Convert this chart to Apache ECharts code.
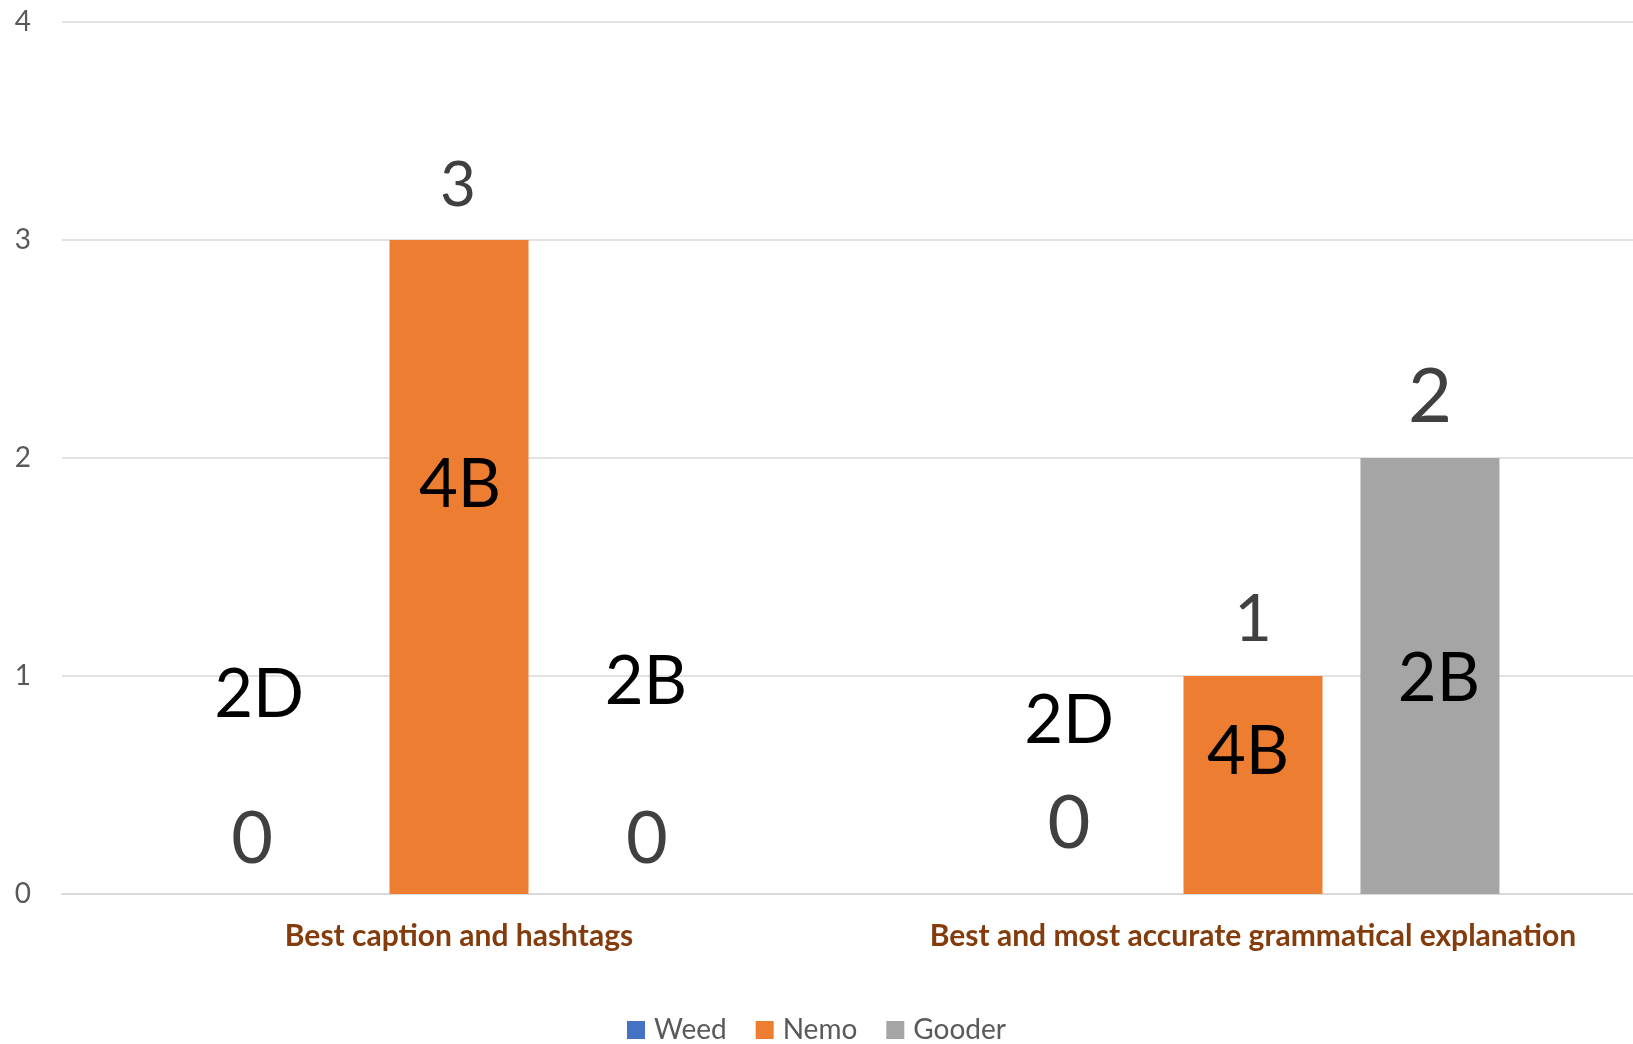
<!DOCTYPE html>
<html><head><meta charset="utf-8">
<script src="https://cdn.jsdelivr.net/npm/echarts@6/dist/echarts.min.js"></script>
<style>html,body{margin:0;padding:0;background:#fff;}#c{width:1633px;height:1044px;}</style>
</head><body><div id="c"></div>
<script>
const categories = ['Best caption and hashtags', 'Best and most accurate grammatical explanation'];
const seriesNames = ['Weed', 'Nemo', 'Gooder'];
const weedValues = [0, 0];
const nemoValues = [3, 1];
const gooderValues = [0, 2];
const weedNotes = ['2D', '2D'];
const nemoNotes = ['4B', '4B'];
const gooderNotes = ['2B', '2B'];
const yTicks = [0, 1, 2, 3, 4];

const FONT = 'Lato, "Open Sans", sans-serif';
const colors = ['#4472C4', '#ED7D31', '#A5A5A5'];
// label placement tweaks (px from top-centre of each bar)
const valueLabelOffsets = [[[-30, -54], [-7, -70]], [[-1, -54], [0, -56]], [[11, -54], [0, -61]]];
const valueLabelSizes = [[72, 74], [62, 65], [72, 76]];
const noteOffsets = [[[-23, -199], [-7, -173]], [[1, 245], [-5, 76]], [[10, -212], [9, 221]]];

const allValues = [weedValues, nemoValues, gooderValues];
const allNotes = [weedNotes, nemoNotes, gooderNotes];

function valueSeries(i) {
  return {
    name: seriesNames[i], type: 'bar', xAxisIndex: 0, barWidth: 139, barGap: '27.3%',
    itemStyle: { color: colors[i] }, z: 2,
    data: allValues[i].map((v, j) => ({
      value: v,
      label: {
        show: true, position: ['50%', 0], offset: valueLabelOffsets[i][j],
        align: 'center', verticalAlign: 'middle',
        fontSize: valueLabelSizes[i][j], color: '#404040', fontFamily: FONT
      }
    }))
  };
}
function noteSeries(i) {
  return {
    name: seriesNames[i] + ' note', type: 'bar', xAxisIndex: 1, barWidth: 139, barGap: '27.3%',
    itemStyle: { color: 'rgba(0,0,0,0)' }, silent: true, z: 3,
    data: allValues[i].map((v, j) => ({
      value: v,
      label: {
        show: true, formatter: allNotes[i][j], position: ['50%', 0], offset: noteOffsets[i][j],
        align: 'center', verticalAlign: 'middle',
        fontSize: 67, color: '#000000', fontFamily: FONT
      }
    }))
  };
}

const chart = echarts.init(document.getElementById('c'), null, { renderer: 'canvas' });
chart.setOption({
  animation: false,
  backgroundColor: '#ffffff',
  textStyle: { fontFamily: FONT },
  grid: { left: 62, right: -17, top: 22, bottom: 150, containLabel: false, outerBoundsMode: 'none' },
  legend: {
    data: seriesNames, left: 'center', top: 1011, icon: 'rect',
    itemWidth: 18, itemHeight: 18, itemGap: 29,
    textStyle: { fontSize: 28, color: '#595959', fontFamily: FONT, padding: [0, 0, 0, 4] }
  },
  xAxis: [
    {
      type: 'category', data: categories,
      axisLine: { lineStyle: { color: '#d9d9d9', width: 2 } },
      axisTick: { show: false },
      axisLabel: { fontSize: 30, fontWeight: 'bold', color: '#843C0C', margin: 27, fontFamily: FONT, interval: 0 }
    },
    { type: 'category', data: categories, show: false }
  ],
  yAxis: {
    type: 'value', min: yTicks[0], max: yTicks[yTicks.length - 1], interval: 1,
    axisLine: { show: false }, axisTick: { show: false },
    splitLine: { lineStyle: { color: '#d9d9d9', width: 1.5 } },
    axisLabel: { fontSize: 28, color: '#595959', margin: 31, fontFamily: FONT }
  },
  series: [valueSeries(0), valueSeries(1), valueSeries(2), noteSeries(0), noteSeries(1), noteSeries(2)]
});
</script></body></html>
